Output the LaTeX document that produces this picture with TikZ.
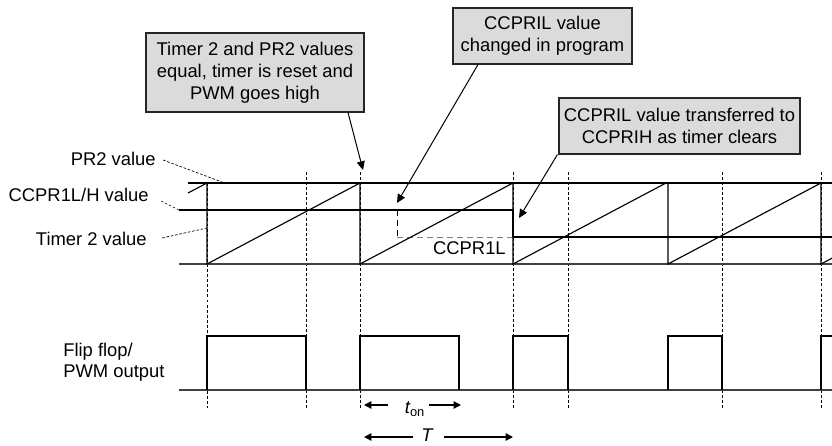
\documentclass[tikz,border=0pt]{standalone}
\usepackage{fontspec}
\setmainfont{Liberation Sans}
\usetikzlibrary{arrows.meta,calc}
\begin{document}
\begin{tikzpicture}[x=0.75pt,y=-0.75pt,
  thickln/.style={line width=1.6pt},
  thinln/.style={line width=0.85pt},
  baseln/.style={line width=0.9pt,draw=black!75},
  guide/.style={line width=0.5pt,dash pattern=on 2.2pt off 1.6pt},
  leader/.style={line width=0.5pt,dash pattern=on 2pt off 1.3pt},
  callout/.style={draw=black!85,line width=0.8pt,fill=black!14,align=center,inner sep=0pt,font=\fontsize{13.8}{16.5}\selectfont},
  lbl/.style={font=\fontsize{13.8}{16.5}\selectfont,inner sep=0pt},
  pointer/.style={line width=0.75pt,-{Triangle[length=6.5pt,width=6pt]}},
  dimarrow/.style={line width=0.9pt,-{Triangle[length=5.5pt,width=5.5pt]}}]
\useasboundingbox (0,0) rectangle (832,446);

% guide lines
\foreach \gx/\gy in {207/183,306/172,360/172,513/172,568/172,722/172,821/172}
  \draw[guide] (\gx,\gy) -- (\gx,408);

% timer axes
\draw[baseln] (179,264) -- (832,264);
\draw[thickln] (188,183) -- (832,183);
\draw[thickln] (179,210) -- (513,210) -- (513,237) -- (832,237);

% CCPR1L dashed
\draw[line width=0.7pt,dash pattern=on 4.5pt off 3pt] (397,210) -- (397,237);
\draw[line width=0.7pt,draw=black!50,dash pattern=on 4.5pt off 3pt] (397,237) -- (513,237);
\node[lbl,anchor=east] (ccl) at (506,248) {CCPR1L};

% sawtooth
\draw[thinln] (188,193) -- (207,183);
\foreach \sx in {207,360,513,668}
  \draw[thinln] (\sx,183) -- (\sx,264) -- ({\sx+153},183);
\draw[thinln] (821,183) -- (821,264) -- (832,258.2);

% PWM
\draw[baseln] (179,390) -- (832,390);
\draw[thinln] (207,390) |- (306,336) -- (306,390);
\draw[thinln] (360,390) |- (459,336) -- (459,390);
\draw[thinln] (513,390) |- (568,336) -- (568,390);
\draw[thinln] (668,390) |- (722,336) -- (722,390);
\draw[thinln] (821,390) |- (832,336);

% left labels
\node[lbl,anchor=east] (pr2) at (156,159) {PR2 value};
\node[lbl,anchor=east] (ccp) at (149,195) {CCPR1L/H value};
\node[lbl,anchor=east] (tm2) at (147,239) {Timer 2 value};
\node[lbl,anchor=west,align=left,font=\fontsize{13.8}{15.8}\selectfont] (ff) at (63,362) {Flip flop/\\PWM output};
\coordinate (pr2e) at (222,182);
\coordinate (ccpe) at (179,210);
\coordinate (tm2e) at (207,228);
\draw[leader] ($(pr2.east)+(7,1)$) -- (pr2e);
\draw[leader] ($(ccp.east)+(12,6)$) -- (ccpe);
\draw[leader] ($(tm2.east)+(15,-1)$) -- (tm2e);

% callouts
\node[callout,minimum width=218*0.75pt,minimum height=79*0.75pt] (b1) at (255,72.5)
  {Timer 2 and PR2 values\\equal, timer is reset and\\PWM goes high};
\node[callout,minimum width=179*0.75pt,minimum height=56*0.75pt] (b2) at (542.5,36)
  {CCPRIL value\\changed in program};
\node[callout,minimum width=241*0.75pt,minimum height=56*0.75pt] (b3) at (679.5,126)
  {CCPRIL value transferred to\\CCPRIH as timer clears};
\coordinate (t1) at (363,170);
\coordinate (t2) at (397,203);
\coordinate (t3) at (519,218);
\draw[pointer] ($(b1.south)+(93,0)$) -- (t1);
\draw[pointer] ($(b2.south)+(-64.5,0)$) -- (t2);
\draw[pointer] ($(b3.south west)+(-1,0)$) -- (t3);

% dimensions
\node[lbl,font=\fontsize{13.8}{16.5}\selectfont\itshape] (ton) at (415,409) {t\textsubscript{\upshape on}};
\coordinate (tonL) at (364,405);
\coordinate (tonR) at (461,405);
\draw[dimarrow] (388,405) -- (tonL);
\draw[dimarrow] (429,405) -- (tonR);
\node[lbl,font=\fontsize{13.8}{16.5}\selectfont\itshape,text depth=0pt] (tt) at (427,435) {T};
\coordinate (tL) at (364,437);
\coordinate (tR) at (513,437);
\draw[dimarrow] ($(tt.west)+(-8,2)$) -- (tL);
\draw[dimarrow] ($(tt.east)+(11,2)$) -- (tR);
\end{tikzpicture}
\end{document}
